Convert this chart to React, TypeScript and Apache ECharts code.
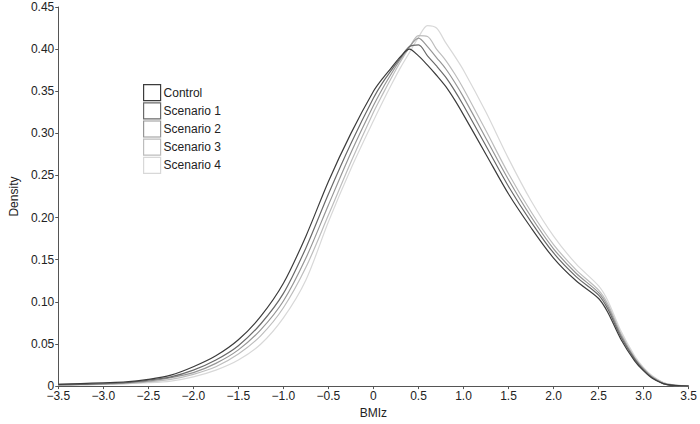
import React, { useEffect, useRef } from "react";
import * as echarts from "echarts";

const xs = [-3.5,-3.25,-3,-2.75,-2.5,-2.25,-2,-1.75,-1.5,-1.25,-1,-0.75,-0.5,-0.25,0,0.1,0.2,0.3,0.4,0.5,0.6,0.7,0.8,0.9,1.0,1.25,1.5,1.75,2,2.25,2.5,2.6,2.75,2.9,3.0,3.1,3.25,3.5];

const control = [0.002,0.003,0.004,0.005,0.008,0.013,0.023,0.036,0.055,0.083,0.122,0.178,0.243,0.300,0.350,0.365,0.378,0.391,0.400,0.392,0.381,0.369,0.356,0.340,0.322,0.275,0.228,0.188,0.152,0.125,0.104,0.088,0.055,0.030,0.018,0.009,0.002,0];
const scenario1 = [0.002,0.002,0.003,0.004,0.007,0.011,0.019,0.031,0.048,0.074,0.110,0.164,0.228,0.288,0.342,0.360,0.375,0.390,0.403,0.405,0.392,0.380,0.367,0.351,0.333,0.285,0.237,0.195,0.158,0.130,0.108,0.092,0.058,0.032,0.019,0.010,0.002,0];
const scenario2 = [0.001,0.002,0.003,0.004,0.006,0.010,0.016,0.027,0.043,0.067,0.101,0.152,0.215,0.277,0.333,0.353,0.371,0.388,0.403,0.413,0.403,0.390,0.377,0.361,0.343,0.294,0.245,0.201,0.163,0.134,0.111,0.095,0.060,0.033,0.020,0.010,0.002,0];
const scenario3 = [0.001,0.002,0.002,0.003,0.005,0.008,0.014,0.023,0.038,0.060,0.093,0.141,0.203,0.266,0.325,0.346,0.366,0.385,0.402,0.416,0.415,0.400,0.387,0.371,0.353,0.303,0.252,0.207,0.168,0.138,0.114,0.098,0.062,0.034,0.021,0.011,0.003,0];
const scenario4 = [0.001,0.001,0.002,0.003,0.004,0.006,0.011,0.019,0.031,0.050,0.081,0.126,0.195,0.258,0.315,0.337,0.358,0.378,0.396,0.414,0.428,0.425,0.408,0.392,0.375,0.325,0.270,0.220,0.178,0.145,0.119,0.102,0.065,0.036,0.022,0.012,0.003,0];

const seriesNames = ["Control", "Scenario 1", "Scenario 2", "Scenario 3", "Scenario 4"];
const seriesValues = [control, scenario1, scenario2, scenario3, scenario4];
const colors = ["#3c3c3c", "#6a6a6a", "#969696", "#bdbdbd", "#d8d8d8"];

export default function App() {
  const ref = useRef<HTMLDivElement>(null);
  useEffect(() => {
    if (!ref.current) return;
    const chart = echarts.init(ref.current, null, { renderer: "svg" });
    const font = "Liberation Sans, Arial, sans-serif";
    chart.setOption({
      animation: false,
      textStyle: { fontFamily: font },
      grid: { left: 45, right: 10, top: 7, bottom: 33, containLabel: false },
      legend: {
        orient: "vertical",
        left: 138,
        top: 79,
        itemWidth: 17,
        itemHeight: 16,
        itemGap: 1,
        textStyle: { fontSize: 12, color: "#222", fontFamily: font, padding: [0, 0, 0, -2] },
        data: seriesNames.map((n, i) => ({
          name: n,
          icon: "rect",
          itemStyle: { color: "#fff", borderColor: colors[i], borderWidth: 1.2 },
        })),
      },
      xAxis: {
        type: "value",
        min: -3.5,
        max: 3.5,
        interval: 0.5,
        name: "BMIz",
        nameLocation: "middle",
        nameGap: 20,
        nameTextStyle: { fontSize: 12, color: "#222" },
        axisLine: { onZero: false, lineStyle: { color: "#555", width: 1 } },
        axisTick: { show: true, length: 3, lineStyle: { color: "#555" } },
        axisLabel: {
          fontSize: 12,
          color: "#222",
          margin: 4,
          formatter: (v: number) => (v === 0 ? "0" : v.toFixed(1).replace("-", "\u2212")),
        },
        splitLine: { show: false },
      },
      yAxis: {
        type: "value",
        min: 0,
        max: 0.45,
        interval: 0.05,
        name: "Density",
        nameLocation: "middle",
        nameGap: 32,
        nameTextStyle: { fontSize: 12, color: "#222" },
        axisLine: { show: true, onZero: false, lineStyle: { color: "#555", width: 1 } },
        axisTick: { show: true, length: 3, lineStyle: { color: "#555" } },
        axisLabel: {
          fontSize: 12,
          color: "#222",
          margin: 4,
          formatter: (v: number) => (v === 0 ? "0" : v.toFixed(2)),
        },
        splitLine: { show: false },
      },
      series: seriesNames.map((n, i) => ({
        name: n,
        type: "line",
        data: xs.map((x, j) => [x, seriesValues[i][j]]),
        showSymbol: false,
        symbol: "none",
        smooth: 0.3,
        z: 10 - i,
        lineStyle: { color: colors[i], width: 1.2 },
        itemStyle: { color: colors[i] },
      })),
    });
    return () => chart.dispose();
  }, []);
  return <div ref={ref} style={{ width: 700, height: 424, position: "absolute", left: 0, top: 0, background: "#fff" }} />;
}
